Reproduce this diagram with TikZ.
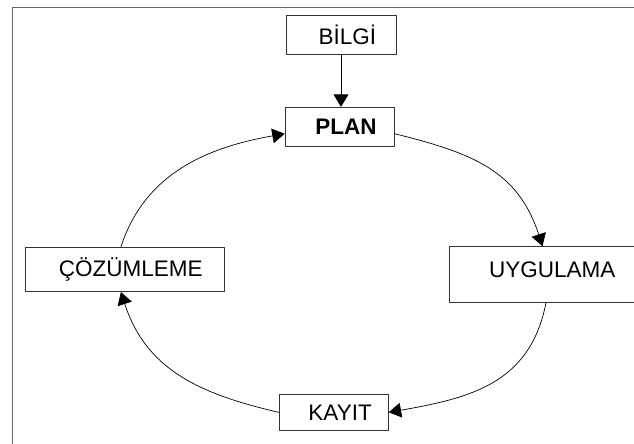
\documentclass[tikz,border=0pt]{standalone}
\usepackage{fontspec}
\setmainfont{Liberation Sans}
\usepackage{tikz}
\usetikzlibrary{arrows.meta}

\tikzset{kutu/.style={draw=black!80,line width=0.6pt,inner sep=0pt,font=\fontsize{16}{19}\selectfont}}

\begin{document}
\begin{tikzpicture}[line cap=round,line join=round,>={Triangle[length=8.8pt,width=10.5pt]},x=0.025cm,y=0.025cm]
\clip(0,0) rectangle (634,444);
\draw [line width=1.1pt,color=black!60] (12.7,0) -- (12.7,436.7) -- (634,436.7);
\node[kutu,minimum width=2.75cm,minimum height=0.98cm] (bilgi) at (341,409.3) {\hspace*{9pt}BİLGİ};
\node[kutu,minimum width=2.73cm,minimum height=0.985cm] (plan) at (339.7,317) {\hspace*{9pt}\bfseries PLAN};
\node[kutu,minimum width=4.975cm,minimum height=1.11cm] (cozum) at (124.5,174.5) {\hspace*{9pt}ÇÖZÜMLEME};
\node[kutu,minimum width=4.85cm,minimum height=1.39cm,text depth=6.4pt] (uyg) at (546,169.5) {\hspace*{9pt}UYGULAMA};
\node[kutu,minimum width=2.725cm,minimum height=0.92cm] (kayit) at (333.8,31.65) {\hspace*{9pt}KAYIT};
\draw [->,line width=0.5pt] (bilgi.south) -- (bilgi.south |- plan.north);
\draw [->,line width=0.5pt] (cozum.99) to[out=72,in=190] (plan.187);
\draw [->,line width=0.5pt] (plan.353) to[out=-14,in=108,looseness=1.1] (uyg.97);
\draw [->,line width=0.5pt] (uyg.south) to[out=-101,in=10,looseness=1.1] (kayit.east);
\draw [->,line width=0.5pt] (kayit.west) to[out=167,in=-72,looseness=1.05] (cozum.261);
\end{tikzpicture}
\end{document}
